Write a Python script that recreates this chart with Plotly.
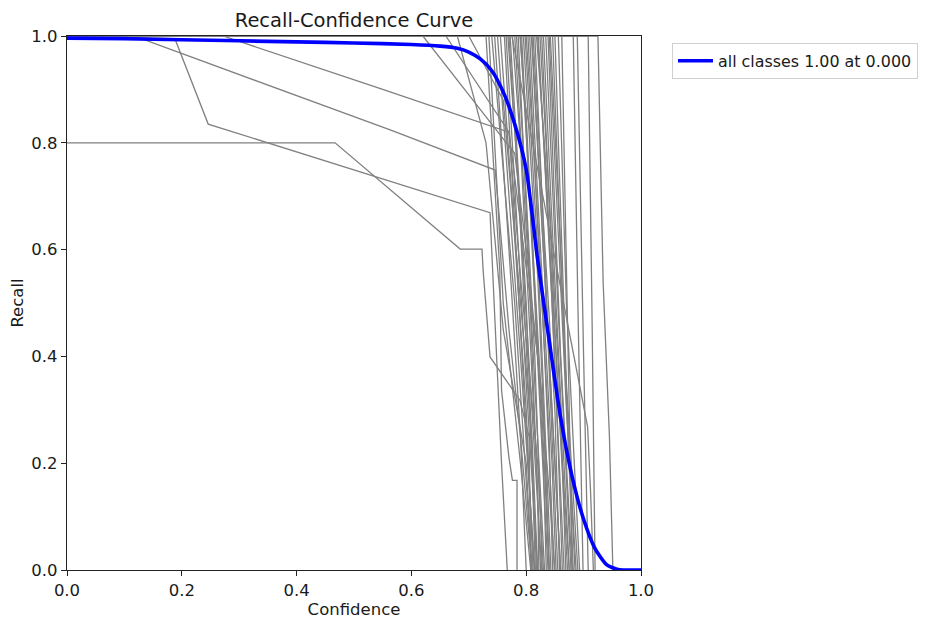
import plotly.graph_objects as go

# ---- data ----
conf_all = [0.0, 0.1, 0.2, 0.3, 0.4, 0.5, 0.6, 0.65, 0.68, 0.70, 0.72, 0.74, 0.76, 0.78,
            0.80, 0.82, 0.84, 0.86, 0.88, 0.90, 0.92, 0.94, 0.96, 1.0]
recall_all = [0.996, 0.995, 0.993, 0.991, 0.989, 0.987, 0.984, 0.981, 0.977, 0.970, 0.957,
              0.935, 0.895, 0.835, 0.75, 0.58, 0.43, 0.285, 0.175, 0.095, 0.04, 0.01, 0.001, 0.0]

# per-class curves: (confidence points, recall points)
class_conf = [
    [0, 0.467, 0.685, 0.723, 0.725, 0.737, 0.789, 0.805, 0.808],
    [0, 0.188, 0.246, 0.737, 0.742, 0.750, 0.757, 0.767],
    [0, 0.132, 0.563, 0.746, 0.750, 0.770, 0.790, 0.800],
    [0, 0.272, 0.550, 0.770, 0.790, 0.820, 0.840, 0.850],
    [0, 0.730, 0.754, 0.757, 0.770, 0.776, 0.784, 0.784],
    [0, 0.620, 0.780, 0.800, 0.830, 0.840],
    [0, 0.660, 0.770, 0.790, 0.820, 0.830],
    [0, 0.700, 0.760, 0.790, 0.810, 0.820],
    [0, 0.680, 0.730, 0.760, 0.800, 0.810],
    [0, 0.735, 0.760, 0.790, 0.808],
    [0, 0.745, 0.770, 0.790, 0.810],
    [0, 0.755, 0.775, 0.800, 0.812],
    [0, 0.762, 0.790, 0.814],
    [0, 0.768, 0.785, 0.810, 0.816],
    [0, 0.772, 0.800, 0.818],
    [0, 0.776, 0.790, 0.820, 0.822],
    [0, 0.780, 0.805, 0.825],
    [0, 0.783, 0.800, 0.815, 0.828],
    [0, 0.786, 0.810, 0.832],
    [0, 0.789, 0.800, 0.830, 0.835],
    [0, 0.792, 0.815, 0.838],
    [0, 0.795, 0.820, 0.830, 0.840],
    [0, 0.798, 0.820, 0.843],
    [0, 0.800, 0.815, 0.840, 0.846],
    [0, 0.803, 0.830, 0.849],
    [0, 0.806, 0.820, 0.845, 0.852],
    [0, 0.809, 0.835, 0.855],
    [0, 0.812, 0.830, 0.850, 0.858],
    [0, 0.815, 0.840, 0.860],
    [0, 0.818, 0.835, 0.855, 0.863],
    [0, 0.821, 0.845, 0.866],
    [0, 0.824, 0.840, 0.860, 0.869],
    [0, 0.827, 0.850, 0.872],
    [0, 0.830, 0.845, 0.865, 0.875],
    [0, 0.834, 0.855, 0.878],
    [0, 0.838, 0.860, 0.880],
    [0, 0.842, 0.860, 0.882],
    [0, 0.846, 0.865, 0.885],
    [0, 0.850, 0.870, 0.890],
    [0, 0.856, 0.870, 0.893],
    [0, 0.862, 0.875, 0.880],
    [0, 0.740, 0.780, 0.810],
    [0, 0.750, 0.790, 0.815],
    [0, 0.765, 0.800, 0.820],
    [0, 0.770, 0.810, 0.827],
    [0, 0.790, 0.825, 0.840],
    [0, 0.810, 0.845, 0.860],
    [0, 0.820, 0.860, 0.875],
    [0, 0.840, 0.870, 0.887],
    [0, 0.775, 0.907, 0.912, 0.917],
    [0, 0.882, 0.890, 0.899],
    [0, 0.889, 0.900, 0.908],
    [0, 0.908, 0.915, 0.920],
    [0, 0.925, 0.934, 0.945, 0.951],
]
class_recall = [
    [0.8, 0.8, 0.601, 0.601, 0.56, 0.399, 0.318, 0.25, 0.0],
    [1.0, 0.995, 0.835, 0.669, 0.55, 0.35, 0.2, 0.0],
    [1.0, 0.994, 0.824, 0.749, 0.70, 0.45, 0.25, 0.0],
    [1.0, 1.0, 0.90, 0.82, 0.65, 0.40, 0.15, 0.0],
    [1.0, 1.0, 0.56, 0.337, 0.21, 0.168, 0.168, 0.0],
    [1.0, 1.0, 0.78, 0.6, 0.3, 0.0],
    [1.0, 1.0, 0.82, 0.55, 0.2, 0.0],
    [1.0, 1.0, 0.88, 0.5, 0.25, 0.0],
    [1.0, 1.0, 0.8, 0.45, 0.2, 0.0],
    [1.0, 1.0, 0.5, 0.2, 0.0],
    [1.0, 1.0, 0.6, 0.25, 0.0],
    [1.0, 1.0, 0.7, 0.3, 0.0],
    [1.0, 1.0, 0.45, 0.0],
    [1.0, 1.0, 0.75, 0.2, 0.0],
    [1.0, 1.0, 0.5, 0.0],
    [1.0, 1.0, 0.8, 0.15, 0.0],
    [1.0, 1.0, 0.55, 0.0],
    [1.0, 1.0, 0.7, 0.4, 0.0],
    [1.0, 1.0, 0.45, 0.0],
    [1.0, 1.0, 0.85, 0.2, 0.0],
    [1.0, 1.0, 0.5, 0.0],
    [1.0, 1.0, 0.55, 0.3, 0.0],
    [1.0, 1.0, 0.6, 0.0],
    [1.0, 1.0, 0.75, 0.25, 0.0],
    [1.0, 1.0, 0.45, 0.0],
    [1.0, 1.0, 0.7, 0.2, 0.0],
    [1.0, 1.0, 0.5, 0.0],
    [1.0, 1.0, 0.65, 0.3, 0.0],
    [1.0, 1.0, 0.4, 0.0],
    [1.0, 1.0, 0.75, 0.25, 0.0],
    [1.0, 1.0, 0.5, 0.0],
    [1.0, 1.0, 0.7, 0.3, 0.0],
    [1.0, 1.0, 0.45, 0.0],
    [1.0, 1.0, 0.65, 0.2, 0.0],
    [1.0, 1.0, 0.5, 0.0],
    [1.0, 1.0, 0.4, 0.0],
    [1.0, 1.0, 0.6, 0.0],
    [1.0, 1.0, 0.45, 0.0],
    [1.0, 1.0, 0.35, 0.0],
    [1.0, 1.0, 0.5, 0.0],
    [1.0, 1.0, 0.3, 0.0],
    [1.0, 1.0, 0.5, 0.0],
    [1.0, 1.0, 0.4, 0.0],
    [1.0, 1.0, 0.35, 0.0],
    [1.0, 1.0, 0.3, 0.0],
    [1.0, 1.0, 0.35, 0.0],
    [1.0, 1.0, 0.3, 0.0],
    [1.0, 1.0, 0.25, 0.0],
    [1.0, 1.0, 0.3, 0.0],
    [1.0, 1.0, 0.268, 0.15, 0.0],
    [1.0, 1.0, 0.5, 0.0],
    [1.0, 1.0, 0.4, 0.0],
    [1.0, 1.0, 0.45, 0.0],
    [1.0, 1.0, 0.54, 0.25, 0.0],
]

tick_vals = [0.0, 0.2, 0.4, 0.6, 0.8, 1.0]
tick_text = ["0.0", "0.2", "0.4", "0.6", "0.8", "1.0"]
legend_label = "all classes 1.00 at 0.000"

FONT = "DejaVu Sans"
TXT = "#1a1a1a"

# the page body adds an 8px offset; margins compensate for it
fig = go.Figure()
for cx, cy in zip(class_conf, class_recall):
    fig.add_trace(go.Scatter(x=cx, y=cy, mode="lines", showlegend=False, hoverinfo="skip",
                             line=dict(color="#808080", width=1.3)))

fig.add_trace(go.Scatter(x=conf_all, y=recall_all, mode="lines", name=legend_label,
                         line=dict(color="#0000FF", width=3.6, shape="spline", smoothing=0.6)))

axis_common = dict(range=[0, 1], tickvals=tick_vals, ticktext=tick_text, showgrid=False,
                   zeroline=False, showline=True, linecolor="#222222", linewidth=1.2,
                   mirror=True, ticks="outside", ticklen=5, tickcolor="#222222",
                   automargin=False,
                   tickfont=dict(family=FONT, size=16.5, color=TXT))

fig.update_layout(
    width=929, height=618,
    margin=dict(l=59, r=296, t=28, b=56, autoexpand=False),
    paper_bgcolor="white", plot_bgcolor="white",
    title=dict(text="Recall-Confidence Curve", x=346 / 929, xanchor="center",
               y=1 - 12 / 618, yanchor="middle",
               font=dict(family=FONT, size=19.5, color=TXT)),
    xaxis=dict(axis_common, title=dict(text="Confidence", standoff=2,
                                       font=dict(family=FONT, size=16.5, color=TXT))),
    yaxis=dict(axis_common, title=dict(text="Recall", standoff=5,
                                       font=dict(family=FONT, size=16.5, color=TXT))),
    legend=dict(x=1.054, y=0.987, xanchor="left", yanchor="top",
                bordercolor="#d0d0d0", borderwidth=1, bgcolor="white",
                font=dict(family=FONT, size=15.9, color=TXT), itemwidth=35),
    showlegend=True,
)

fig.write_html("out.html")
